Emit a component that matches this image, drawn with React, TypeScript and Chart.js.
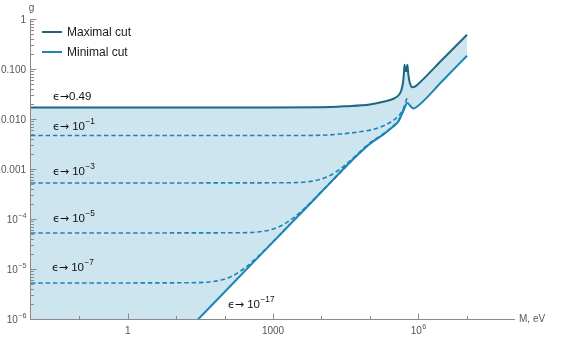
import React, { useEffect, useRef } from "react";
import { Chart, registerables } from "chart.js";

Chart.register(...registerables);

// ---- data (M in eV, g) ----
const maxM = [1e-2, 1e3, 1e4, 3.16e4, 1e5, 2.0e5, 3.16e5, 3.98e5, 4.47e5, 4.84e5, 5.07e5, 5.22e5, 5.41e5, 5.6e5, 5.78e5, 5.98e5, 6.24e5, 6.61e5, 7.08e5, 7.59e5, 8.51e5, 1e6, 3.16e6, 1.02e7];
const maxG = [0.01706, 0.01706, 0.01718, 0.018, 0.0195, 0.0224, 0.0257, 0.0302, 0.0372, 0.0525, 0.0832, 0.122, 0.1, 0.0912, 0.1, 0.122, 0.0794, 0.0562, 0.0457, 0.0432, 0.0442, 0.0501, 0.155, 0.485];

const minM = [1e-2, 100, 1e4, 4.57e4, 1e5, 1.91e5, 3.05e5, 3.89e5, 4.57e5, 5.07e5, 5.93e5, 6.76e5, 7.94e5, 9.27e5, 3.16e6, 1.02e7];
const minG = [3.47e-10, 3.47e-6, 3.47e-4, 1.58e-3, 3.16e-3, 4.9e-3, 7.08e-3, 8.91e-3, 0.0123, 0.0155, 0.0209, 0.0186, 0.0162, 0.0174, 0.0575, 0.1845];

const eps1M = [1e-2, 3.16e3, 1e4, 2.51e4, 6.31e4, 1.26e5, 2.0e5, 2.82e5, 3.55e5, 4.17e5, 5.01e5, 5.89e5];
const eps1G = [4.68e-3, 4.68e-3, 4.73e-3, 5.01e-3, 5.56e-3, 6.31e-3, 7.41e-3, 8.91e-3, 0.0105, 0.0123, 0.0166, 0.0269];

const eps3M = [1e-2, 1.51e3, 4.79e3, 8.51e3, 1.51e4, 2.69e4, 4.79e4, 1e5, 1.91e5, 3.05e5, 3.89e5, 4.57e5, 5.07e5];
const eps3G = [5.25e-4, 5.3e-4, 5.51e-4, 6.03e-4, 7.41e-4, 1.07e-3, 1.74e-3, 3.31e-3, 5.01e-3, 7.24e-3, 9.12e-3, 0.0126, 0.0158];

const eps5M = [1e-2, 151, 479, 851, 1.51e3, 2.69e3, 4.79e3, 1.51e4, 4.79e4, 1e5, 1.91e5, 3.05e5, 3.89e5, 4.57e5, 5.07e5];
const eps5G = [5.25e-5, 5.3e-5, 5.51e-5, 6.03e-5, 7.41e-5, 1.07e-4, 1.74e-4, 5.3e-4, 1.66e-3, 3.24e-3, 5.01e-3, 7.24e-3, 9.12e-3, 0.0126, 0.0158];

const eps7M = [1e-2, 15.1, 47.9, 85.1, 151, 269, 479, 1.51e3, 4.79e3, 1.51e4, 4.79e4, 1e5, 1.91e5, 3.05e5, 3.89e5, 4.57e5, 5.07e5];
const eps7G = [5.25e-6, 5.3e-6, 5.51e-6, 6.03e-6, 7.41e-6, 1.07e-5, 1.74e-5, 5.3e-5, 1.66e-4, 5.25e-4, 1.66e-3, 3.24e-3, 5.01e-3, 7.24e-3, 9.12e-3, 0.0126, 0.0158];

const yTickValues = [1, 0.1, 0.01, 0.001, 1e-4, 1e-5, 1e-6];
const yTickLabels = ["1", "0.100", "0.010", "0.001", "10^\u22124", "10^\u22125", "10^\u22126"];
const xMajorValues = [1, 1000, 1e6];
const xMajorLabels = ["1", "1000", "10^6"];
const xMinorValues = [0.1, 10, 100, 1e4, 1e5, 1e7];
const legendLabels = ["Maximal cut", "Minimal cut"];
const epsPrefix = "\u03f5\u2192";
const epsValues = ["0.49", " 10^\u22121", " 10^\u22123", " 10^\u22125", " 10^\u22127", " 10^\u221217"];

const DARK = "#1d6783";
const MID = "#1b85b6";
const FILL = "#cde5ef";
const FONT = '"Liberation Sans", Arial, sans-serif';
const SYM_FONT = '"DejaVu Sans", sans-serif';

const zip = (xs: number[], ys: number[]) => xs.map((x, i) => ({ x, y: ys[i] }));

function drawRich(ctx: CanvasRenderingContext2D, text: string, x: number, y: number, size: number, align: "left" | "right" | "center", raise = 0.45) {
  const parts = text.split("^");
  const base = parts[0];
  const sup = parts[1];
  const supSize = size * 0.72;
  ctx.font = `${size}px ${FONT}`;
  const wb = ctx.measureText(base).width;
  let ws = 0;
  if (sup) {
    ctx.font = `${supSize}px ${FONT}`;
    ws = ctx.measureText(sup).width;
  }
  const total = wb + ws;
  const x0 = align === "right" ? x - total : align === "center" ? x - total / 2 : x;
  ctx.textAlign = "left";
  ctx.textBaseline = "alphabetic";
  ctx.font = `${size}px ${FONT}`;
  ctx.fillText(base, x0, y);
  if (sup) {
    ctx.font = `${supSize}px ${FONT}`;
    ctx.fillText(sup, x0 + wb + 0.5, y - size * raise);
  }
  return total;
}

const decorPlugin = {
  id: "decor",
  afterDraw(chart: any) {
    const ctx: CanvasRenderingContext2D = chart.ctx;
    const xs = chart.scales.x;
    const ys = chart.scales.y;
    const { left, right, top, bottom } = chart.chartArea;
    ctx.save();
    const axisColor = "#8a8a8a";
    ctx.strokeStyle = axisColor;
    ctx.lineWidth = 1;
    const ax = Math.round(left) - 0.5;
    const ay = Math.round(bottom) + 0.5;
    ctx.beginPath();
    ctx.moveTo(ax, top);
    ctx.lineTo(ax, ay);
    ctx.lineTo(right, ay);
    ctx.stroke();

    // y ticks
    ctx.beginPath();
    for (let d = 0; d >= -6; d--) {
      const py = Math.round(ys.getPixelForValue(Math.pow(10, d))) + 0.5;
      ctx.moveTo(ax, py);
      ctx.lineTo(ax + 6, py);
      if (d > -6) {
        for (let k = 2; k <= 9; k++) {
          const v = k * Math.pow(10, d - 1);
          const my = Math.round(ys.getPixelForValue(v)) + 0.5;
          ctx.moveTo(ax, my);
          ctx.lineTo(ax + 3.5, my);
        }
      }
    }
    // x ticks
    xMajorValues.forEach((v) => {
      const px = Math.round(xs.getPixelForValue(v)) + 0.5;
      ctx.moveTo(px, ay);
      ctx.lineTo(px, ay - 6);
    });
    xMinorValues.forEach((v) => {
      const px = Math.round(xs.getPixelForValue(v)) + 0.5;
      ctx.moveTo(px, ay);
      ctx.lineTo(px, ay - 3.5);
    });
    ctx.stroke();

    // tick labels
    ctx.fillStyle = "#555";
    yTickValues.forEach((v, i) => {
      const py = ys.getPixelForValue(v);
      drawRich(ctx, yTickLabels[i], 26, py + 3.6, 10, "right", 0.5);
    });
    xMajorValues.forEach((v, i) => {
      const px = xs.getPixelForValue(v);
      drawRich(ctx, xMajorLabels[i], px, ay + 14, 10, "center", 0.5);
    });
    ctx.font = `10px ${FONT}`;
    ctx.textAlign = "left";
    ctx.fillText("M, eV", 519, ay + 2);
    ctx.textAlign = "center";
    ctx.fillText("g", ax + 1, 11);

    // legend
    ctx.lineWidth = 2;
    ctx.strokeStyle = DARK;
    ctx.beginPath();
    ctx.moveTo(42, 32);
    ctx.lineTo(62, 32);
    ctx.stroke();
    ctx.strokeStyle = MID;
    ctx.beginPath();
    ctx.moveTo(42, 52);
    ctx.lineTo(62, 52);
    ctx.stroke();
    ctx.fillStyle = "#1a1a1a";
    ctx.font = `12px ${FONT}`;
    ctx.textAlign = "left";
    ctx.textBaseline = "alphabetic";
    ctx.fillText(legendLabels[0], 67, 36);
    ctx.fillText(legendLabels[1], 67, 56);

    // epsilon labels
    ctx.fillStyle = "#111";
    const pos: [number, number][] = [
      [53, 99.5],
      [53, 129.5],
      [53, 174.5],
      [53, 222],
      [52, 271],
      [228, 308],
    ];
    epsValues.forEach((t, i) => {
      const [lx, ly] = pos[i];
      ctx.font = `11px ${SYM_FONT}`;
      ctx.textAlign = "left";
      ctx.textBaseline = "alphabetic";
      ctx.fillText(epsPrefix, lx, ly);
      const wp = ctx.measureText(epsPrefix).width;
      drawRich(ctx, t, lx + wp, ly, 11.5, "left", 0.5);
    });
    ctx.restore();
  },
};

export default function App() {
  const ref = useRef<HTMLCanvasElement | null>(null);
  useEffect(() => {
    if (!ref.current) return;
    const dashed = (xs: number[], ys: number[]) => ({
      data: zip(xs, ys),
      borderColor: MID,
      borderWidth: 1.6,
      borderDash: [4.5, 2.8],
      pointRadius: 0,
      fill: false,
      cubicInterpolationMode: "monotone" as const,
    });
    const chart = new Chart(ref.current, {
      type: "line",
      data: {
        datasets: [
          {
            label: legendLabels[0],
            data: zip(maxM, maxG),
            borderColor: DARK,
            borderWidth: 2,
            pointRadius: 0,
            backgroundColor: FILL,
            fill: 1,
            cubicInterpolationMode: "monotone",
          },
          {
            label: legendLabels[1],
            data: zip(minM, minG),
            borderColor: MID,
            borderWidth: 2,
            pointRadius: 0,
            fill: false,
            cubicInterpolationMode: "monotone",
          },
          dashed(eps1M, eps1G),
          dashed(eps3M, eps3G),
          dashed(eps5M, eps5G),
          dashed(eps7M, eps7G),
        ] as any,
      },
      options: {
        animation: false,
        responsive: false,
        devicePixelRatio: 1,
        layout: { padding: { left: 31, right: 61, top: 19, bottom: 19 } },
        plugins: {
          legend: { display: false },
          tooltip: { enabled: false },
          filler: { drawTime: "beforeDatasetsDraw" },
        } as any,
        scales: {
          x: { type: "logarithmic", min: 0.01, max: 1e8, display: false },
          y: { type: "logarithmic", min: 1e-6, max: 1, display: false },
        },
      },
      plugins: [decorPlugin],
    });
    return () => chart.destroy();
  }, []);
  return (
    <div style={{ position: "absolute", left: 0, top: 0, width: 576, height: 338, background: "#fff" }}>
      <canvas ref={ref} width={576} height={338} style={{ display: "block" }} />
    </div>
  );
}
